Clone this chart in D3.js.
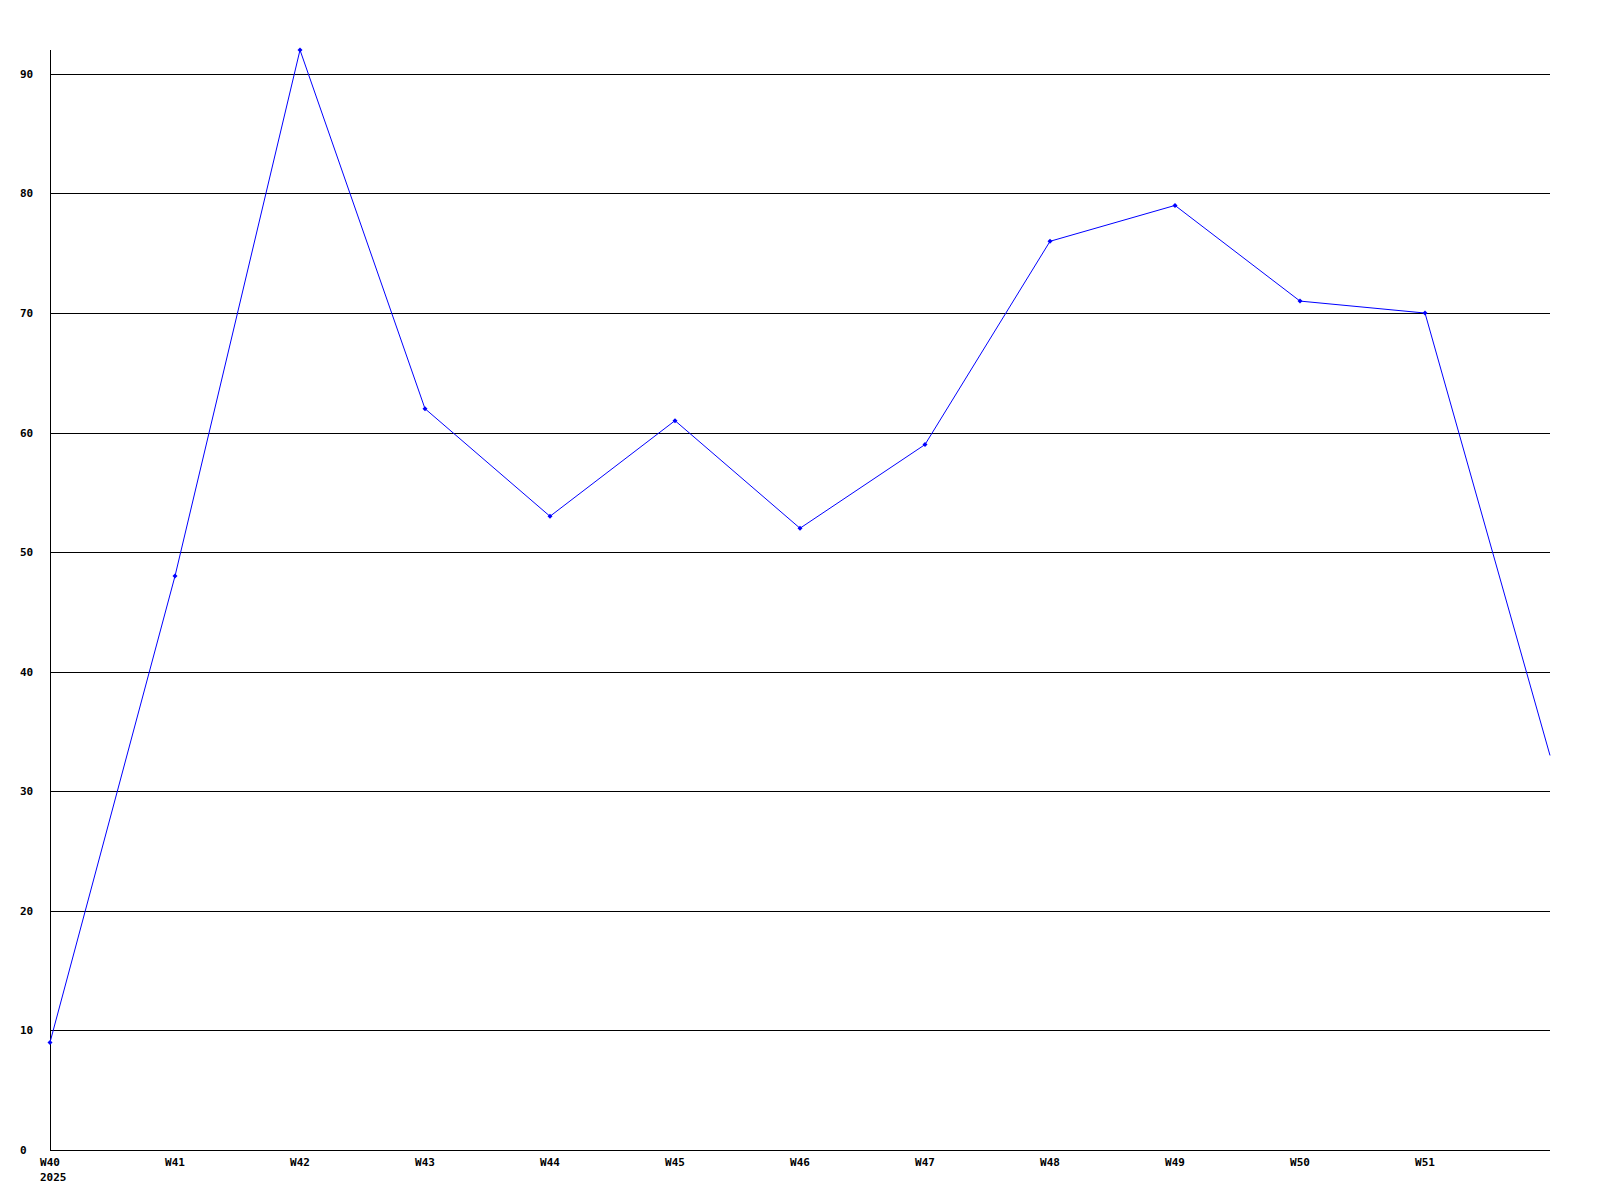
<!DOCTYPE html>
<html>
<head>
<meta charset="utf-8">
<script src="https://cdn.jsdelivr.net/npm/d3@7"></script>
<style>
  body { margin: 0; background: #fff; }
  text { font-family: "DejaVu Sans Mono", monospace; font-weight: bold; font-size: 11px; fill: #000; }
</style>
</head>
<body>
<div id="chart"></div>
<script>
// weekly values, W40 2025 .. W52 (last week has no label)
const weeks = ["W40", "W41", "W42", "W43", "W44", "W45", "W46", "W47", "W48", "W49", "W50", "W51", ""];
const values = [9, 48, 92, 62, 53, 61, 52, 59, 76, 79, 71, 70, 33];
const yTicks = [0, 10, 20, 30, 40, 50, 60, 70, 80, 90];
const yearLabel = "2025";

// plot area
const plot = { left: 50, right: 1550, top: 50, bottom: 1150 };

const svg = d3.select("#chart")
  .append("svg")
  .attr("width", 1600)
  .attr("height", 1200);

const x = d3.scaleLinear().domain([0, weeks.length - 1]).range([plot.left, plot.right]);
const y = d3.scaleLinear().domain([0, 92]).range([plot.bottom, plot.top]);

// horizontal grid lines
svg.append("g")
  .selectAll("line")
  .data(yTicks.filter((d) => d > 0))
  .join("line")
  .attr("x1", plot.left)
  .attr("x2", plot.right)
  .attr("y1", (d) => Math.round(y(d)) + 0.5)
  .attr("y2", (d) => Math.round(y(d)) + 0.5)
  .attr("stroke", "#000")
  .attr("shape-rendering", "crispEdges");

// y labels
svg.append("g")
  .selectAll("text")
  .data(yTicks)
  .join("text")
  .attr("x", 20)
  .attr("y", (d) => Math.round(y(d)))
  .attr("dy", "0.35em")
  .text((d) => d);

// axes
svg.append("line")
  .attr("x1", plot.left + 0.5).attr("x2", plot.left + 0.5)
  .attr("y1", plot.top).attr("y2", plot.bottom)
  .attr("stroke", "#000")
  .attr("shape-rendering", "crispEdges");
svg.append("line")
  .attr("x1", plot.left).attr("x2", plot.right)
  .attr("y1", plot.bottom + 0.5).attr("y2", plot.bottom + 0.5)
  .attr("stroke", "#000")
  .attr("shape-rendering", "crispEdges");

// x labels
svg.append("g")
  .selectAll("text")
  .data(weeks)
  .join("text")
  .attr("x", (d, i) => x(i))
  .attr("y", plot.bottom + 12)
  .attr("dy", "0.35em")
  .attr("text-anchor", "middle")
  .text((d) => d);

svg.append("text")
  .attr("x", x(0) - 10)
  .attr("y", plot.bottom + 27)
  .attr("dy", "0.35em")
  .text(yearLabel);

// the line
const line = d3.line()
  .x((d, i) => x(i))
  .y((d) => y(d));

svg.append("path")
  .datum(values)
  .attr("d", line)
  .attr("fill", "none")
  .attr("stroke", "#0000ff")
  .attr("stroke-width", 1);

// point markers (skip the last one, it sits on the edge)
svg.append("g")
  .selectAll("path")
  .data(values.slice(0, values.length - 1))
  .join("path")
  .attr("transform", (d, i) => `translate(${x(i)},${y(d)})`)
  .attr("d", "M0,-2.5L2.5,0L0,2.5L-2.5,0Z")
  .attr("fill", "#0000ff");
</script>
</body>
</html>
